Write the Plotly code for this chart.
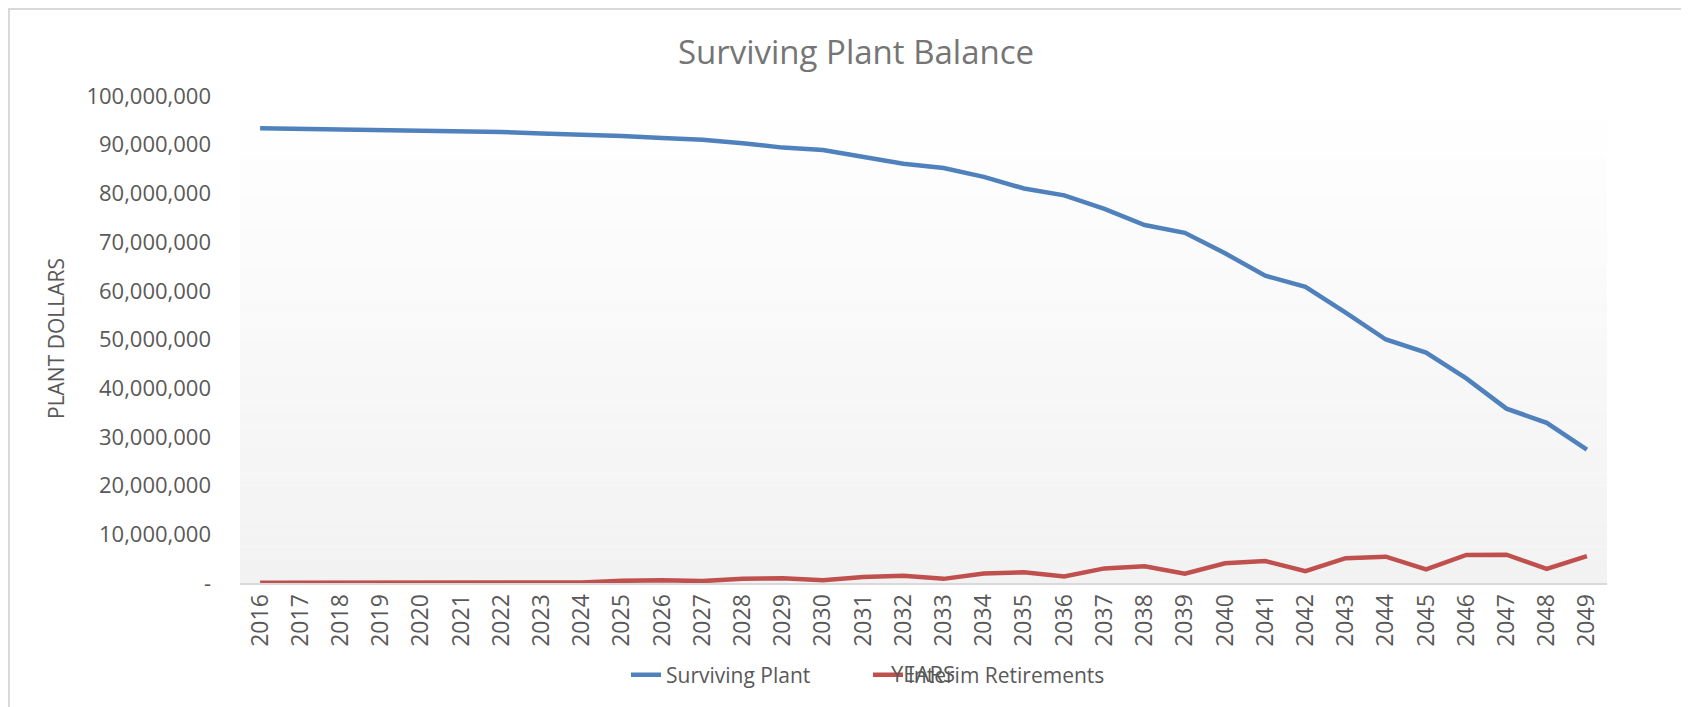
import plotly.graph_objects as go

years = list(range(2016, 2050))
surviving_plant = [93.4, 93.3, 93.2, 93.1, 92.9, 92.8, 92.6, 92.3, 92.1, 91.8,
                   91.4, 91.0, 90.3, 89.4, 88.9, 87.6, 86.1, 85.2, 83.4, 81.0,
                   79.6, 76.8, 73.5, 71.9, 67.7, 63.1, 60.8, 55.5, 50.0, 47.3,
                   42.0, 35.8, 32.9, 27.4]
interim_retirements = [0.05, 0.05, 0.05, 0.05, 0.15, 0.05, 0.2, 0.2, 0.1, 0.45,
                       0.55, 0.4, 0.85, 1.0, 0.55, 1.25, 1.5, 0.85, 1.95, 2.2,
                       1.35, 3.0, 3.45, 1.9, 4.05, 4.5, 2.45, 5.1, 5.4, 2.8,
                       5.75, 5.8, 2.9, 5.5]
surviving_plant = [v * 1e6 for v in surviving_plant]
interim_retirements = [v * 1e6 for v in interim_retirements]

y_tickvals = [0, 10e6, 20e6, 30e6, 40e6, 50e6, 60e6, 70e6, 80e6, 90e6, 100e6]
y_ticktext = ["-", "10,000,000", "20,000,000", "30,000,000", "40,000,000",
              "50,000,000", "60,000,000", "70,000,000", "80,000,000",
              "90,000,000", "100,000,000"]

FONT = "Open Sans"
GREY = "#595959"

fig = go.Figure()
fig.add_trace(go.Scatter(x=years, y=surviving_plant, mode="lines",
                         name="Surviving Plant", legend="legend",
                         line=dict(color="#4f81bd", width=4.5)))
fig.add_trace(go.Scatter(x=years, y=interim_retirements, mode="lines",
                         name="Interim Retirements", legend="legend2",
                         line=dict(color="#c0504d", width=4.5)))

# page body has an 8px margin, so the figure is 8px smaller than the window
W, H = 1681, 699
L, R, T, B = 232, 82, 88, 124
pw, ph = W - L - R, H - T - B

def px(x):
    return (x - L) / pw

def py(y):
    return (H - B - y) / ph

shapes = []
# gradient background of plot area
n = 40
for i in range(n):
    c = round(255 - (255 - 242) * (i + 0.5) / n)
    shapes.append(dict(type="rect", xref="x domain", yref="y domain",
                       x0=0, x1=1, y0=1 - (i + 1) / n, y1=1 - i / n,
                       fillcolor=f"rgb({c},{c},{c})", line=dict(width=0),
                       layer="below"))
# outer chart border
shapes.append(dict(type="rect", xref="paper", yref="paper",
                   x0=px(1), x1=px(1720), y0=py(740), y1=py(1),
                   line=dict(color="#d9d9d9", width=2), fillcolor="rgba(0,0,0,0)",
                   layer="below"))

legend_style = dict(orientation="h", xref="paper", yref="paper",
                    xanchor="left", yanchor="middle",
                    font=dict(size=21, color=GREY, family=FONT),
                    bgcolor="rgba(0,0,0,0)")

fig.update_layout(
    width=W, height=H,
    margin=dict(l=L, r=R, t=T, b=B),
    paper_bgcolor="white", plot_bgcolor="white",
    font=dict(family=FONT, color=GREY, size=22),
    title=dict(text="Surviving Plant Balance", xref="container", yref="container",
               x=848 / W, y=1 - 44 / H, xanchor="center", yanchor="middle",
               font=dict(family=FONT, size=33, color="#757575")),
    showlegend=True,
    legend=dict(x=px(618), y=py(667), **legend_style),
    legend2=dict(x=px(860), y=py(667), **legend_style),
    shapes=shapes,
    annotations=[
        dict(text="PLANT DOLLARS", xref="paper", yref="paper",
             x=px(48), y=py(331), textangle=-90, showarrow=False,
             xanchor="center", yanchor="middle",
             font=dict(size=21, color=GREY, family=FONT)),
        dict(text="YEARS", xref="paper", yref="paper",
             x=px(915), y=py(665), showarrow=False,
             xanchor="center", yanchor="middle",
             font=dict(size=22, color=GREY, family=FONT)),
    ],
)
fig.update_xaxes(range=[2015.5, 2049.5], tickmode="array", tickvals=years,
                 ticktext=[str(y) for y in years], tickangle=-90,
                 showgrid=False, zeroline=False, showline=True,
                 linecolor="#d9d9d9", linewidth=2, ticks="",
                 tickfont=dict(size=23, color=GREY), fixedrange=True)
fig.update_yaxes(range=[0, 100e6], tickmode="array", tickvals=y_tickvals,
                 ticktext=y_ticktext, showgrid=False, zeroline=False,
                 showline=False, ticks="", ticklabelstandoff=28,
                 tickfont=dict(size=22, color=GREY), fixedrange=True)

fig.write_html("out.html")
